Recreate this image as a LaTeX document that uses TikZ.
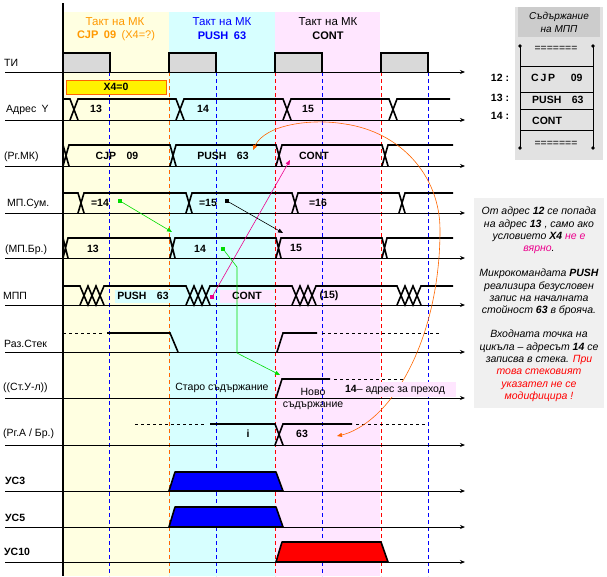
\documentclass[tikz,border=0pt]{standalone}
\usepackage{fontspec}
\setmainfont{Liberation Sans}
\usetikzlibrary{arrows.meta}
\definecolor{bandY}{RGB}{255,255,225}
\definecolor{bandC}{RGB}{215,255,255}
\definecolor{bandP}{RGB}{255,230,255}
\definecolor{tiGray}{RGB}{217,217,217}
\definecolor{mkOrange}{RGB}{255,153,0}
\definecolor{lineOrange}{RGB}{255,102,0}
\definecolor{arrGreen}{RGB}{0,220,0}
\definecolor{panelGray}{RGB}{226,226,226}
\definecolor{headGray}{RGB}{204,204,204}
\definecolor{noteGray}{RGB}{240,240,240}
\begin{document}
\begin{tikzpicture}[x=1pt,y=-1pt,
    sig/.style={line width=1.6pt},
    axis/.style={line width=0.8pt,-{Stealth[length=5pt,width=4pt]}},
    grid/.style={line width=0.8pt,dash pattern=on 4pt off 3pt},
    lbl/.style={anchor=west,inner sep=0pt,font=\fontsize{10.5}{12}\selectfont},
    val/.style={inner sep=1pt,font=\fontsize{10.5}{12}\selectfont\bfseries},
    txt/.style={inner sep=1pt,font=\fontsize{10.5}{12}\selectfont},
    sqmark/.style={fill,minimum size=4pt,inner sep=0pt},
    conn/.style={line width=0.6pt,-{Triangle[length=5pt,width=4pt]}}]
  \useasboundingbox (0,0) rectangle (607,576);
  % bands of the three clock cycles
  \fill[bandY] (63,12) rectangle (169,576);
  \fill[bandC] (169,12) rectangle (275,576);
  \fill[bandP] (275,12) rectangle (380,576);
  \node[txt,mkOrange,font=\fontsize{11.5}{13}\selectfont] (h1) at (115,22) {Такт на МК};
  \node[txt,blue,font=\fontsize{11.5}{13}\selectfont] (h2) at (222,22) {Такт на МК};
  \node[txt,font=\fontsize{11.5}{13}\selectfont] (h3) at (328,22) {Такт на МК};
  \node[txt,mkOrange,font=\fontsize{11}{13}\selectfont] (c1) at (116,36) {\textbf{CJP\enspace 09}\enspace(X4=?)};
  \node[txt,blue,font=\fontsize{11}{13}\selectfont\bfseries] (c2) at (222,36) {PUSH\enspace 63};
  \node[txt,font=\fontsize{11}{13}\selectfont\bfseries] (c3) at (328,36) {CONT};
  % dashed time marks
  \draw[grid,blue] (109,72) -- (109,576);
  \draw[grid,blue] (216,72) -- (216,576);
  \draw[grid,blue] (322,72) -- (322,576);
  \draw[grid,blue] (428,72) -- (428,576);
  \draw[grid,lineOrange] (169,72) -- (169,576);
  \draw[grid,red] (275,72) -- (275,576);
  \draw[grid,red] (381,72) -- (381,576);
  % clock pulses
  \draw[sig,fill=tiGray] (63,72) -- (63,53) -- (110,53) -- (110,72);
  \draw[sig,fill=tiGray] (169,72) -- (169,53) -- (216,53) -- (216,72);
  \draw[sig,fill=tiGray] (275,72) -- (275,53) -- (322,53) -- (322,72);
  \draw[sig,fill=tiGray] (381,72) -- (381,53) -- (428,53) -- (428,72);
  % time axes
  \draw[axis] (5,72) -- (465,72);
  \draw[axis] (5,120) -- (465,120);
  \draw[axis] (5,166) -- (465,166);
  \draw[axis] (5,213) -- (465,213);
  \draw[axis] (5,258) -- (465,258);
  \draw[axis] (5,305) -- (465,305);
  \draw[axis] (5,352) -- (465,352);
  \draw[axis] (5,398) -- (465,398);
  \draw[axis] (5,445) -- (465,445);
  \draw[axis] (5,491) -- (465,491);
  \draw[axis] (5,527) -- (465,527);
  \draw[axis] (5,562) -- (465,562);
  \draw[line width=1.6pt] (63,3) -- (63,576);
  % signal names
  \node[lbl] (ti) at (4,63) {ТИ};
  \node[lbl] (adr) at (6,110) {Адрес\enspace Y};
  \node[lbl] (rgmk) at (4,157) {(Рг.МК)};
  \node[lbl] (mpsum) at (7,204) {МП.Сум.};
  \node[lbl] (mpbr) at (5,250) {(МП.Бр.)};
  \node[lbl] (mpp) at (3,296) {МПП};
  \node[lbl] (stek) at (4,344) {Раз.Стек};
  \node[lbl] (stul) at (3,388) {((Ст.У-л))};
  \node[lbl] (rga) at (3,434) {(Рг.А / Бр.)};
  \node[lbl,font=\fontsize{10.5}{12}\selectfont\bfseries] (us3) at (5,481) {УС3};
  \node[lbl,font=\fontsize{10.5}{12}\selectfont\bfseries] (us5) at (5,518) {УС5};
  \node[lbl,font=\fontsize{10.5}{12}\selectfont\bfseries] (us10) at (4,552) {УС10};
  % condition box
  \node[draw=lineOrange,fill=yellow,line width=0.8pt,minimum width=100pt,minimum height=14pt,
    inner sep=0pt,font=\fontsize{10.5}{12}\selectfont\bfseries] (x4) at (116,87) {X4=0};
  % address Y
  \draw[sig] (63,99) -- (70,99) -- (78,120) (70,120) -- (78,99) -- (176,99) -- (184,120)
    (176,120) -- (184,99) -- (283,99) -- (291,120) (283,120) -- (291,99) -- (389,99) -- (397,120)
    (389,120) -- (397,99) -- (450,99);
  \node[val] (a13) at (96,109) {13};
  \node[val] (a14) at (203,109) {14};
  \node[val] (a15) at (308,109) {15};
  % register of the microcommand
  \draw[sig] (63,145) -- (69,166) (63,166) -- (69,145) -- (170,145) -- (176,166)
    (170,166) -- (176,145) -- (276,145) -- (282,166) (276,166) -- (282,145) -- (382,145) -- (388,166)
    (382,166) -- (388,145) -- (453,145);
  \node[val] (k1) at (117,156) {CJP\enspace\enspace 09};
  \node[val] (k2) at (223,156) {PUSH\enspace\enspace 63};
  \node[val] (k3) at (314,156) {CONT};
  % adder
  \draw[sig] (63,193) -- (78,193) -- (84,213) (78,213) -- (84,193) -- (186,193) -- (192,213)
    (186,213) -- (192,193) -- (292,193) -- (298,213) (292,213) -- (298,193) -- (399,193) -- (405,213)
    (399,213) -- (405,193) -- (453,193);
  \node[val] (s14) at (100,203) {=14};
  \node[val] (s15) at (208,203) {=15};
  \node[val] (s16) at (318,203) {=16};
  % counter
  \draw[sig] (63,238) -- (68,258) (63,258) -- (68,238) -- (170,238) -- (175,258)
    (170,258) -- (175,238) -- (276,238) -- (281,258) (276,258) -- (281,238) -- (382,238) -- (387,258)
    (382,258) -- (387,238) -- (453,238);
  \node[val] (b13) at (93,249) {13};
  \node[val] (b14) at (200,249) {14};
  \node[val] (b15) at (296,248) {15};
  % microprogram memory
  \draw[sig] (63,286) -- (80,286) -- (88,305) -- (96,286) -- (104,305)
    (80,305) -- (88,286) -- (96,305) -- (104,286) -- (186,286) -- (194,305) -- (202,286) -- (210,305)
    (186,305) -- (194,286) -- (202,305) -- (210,286) -- (292,286) -- (300,305) -- (308,286) -- (316,305)
    (292,305) -- (300,286) -- (308,305) -- (316,286) -- (397,286) -- (405,305) -- (413,286) -- (421,305)
    (397,305) -- (405,286) -- (413,305) -- (421,286) -- (453,286);
  \node[val,fill=bandC,minimum width=56pt,minimum height=13pt] (p1) at (143,296) {PUSH\enspace\enspace 63};
  \node[val,fill=bandP,minimum width=54pt,minimum height=13pt] (p2) at (247,296) {CONT};
  \node[val] (p3) at (329,296) {(15)};
  % stack enable
  \draw[dashed] (63,333) -- (102,333);
  \draw[sig] (107,333) -- (170,333) -- (178,352);
  \draw[sig] (277,352) -- (283,333) -- (317,333);
  \draw[dashed] (322,333) -- (440,333);
  % stack top
  \draw[sig] (276,398) -- (282,379) -- (330,379);
  \draw[dashed] (334,379) -- (403,379);
  \node[txt] (old) at (222,388) {Старо съдържание};
  \node[txt] (new1) at (313,392) {Ново};
  \node[txt] (new2) at (313,406) {съдържание};
  % register A / counter
  \draw[dashed] (135,424) -- (205,424);
  \draw[sig] (210,424) -- (275,424) -- (283,445) (275,445) -- (283,424) -- (352,424);
  \draw[dashed] (356,424) -- (428,424);
  \node[val] (ri) at (248,434) {i};
  \node[val] (r63) at (302,434) {63};
  % control signals
  \draw[sig,line join=round,fill=blue] (169,491) -- (175,472) -- (276,472) -- (283,491) -- cycle;
  \draw[sig,line join=round,fill=blue] (169,527) -- (175,507) -- (276,507) -- (283,527) -- cycle;
  \draw[sig,line join=round,fill=red] (276,562) -- (282,542) -- (381,542) -- (388,562) -- cycle;
  % connectors
  \node[sqmark,arrGreen] (g1) at (120,201) {};
  \coordinate (g1e) at (172,232);
  \draw[conn,arrGreen] (g1) -- (g1e);
  \node[sqmark] (n1) at (227,201) {};
  \coordinate (n1e) at (283,233);
  \draw[conn] (n1) -- (n1e);
  \node[sqmark,magenta] (m1) at (212,297) {};
  \coordinate (m1e) at (290,160);
  \draw[conn,magenta] (m1) -- (m1e);
  \node[sqmark,arrGreen] (g2) at (223,249) {};
  \coordinate (g2a) at (237,267);
  \coordinate (g2b) at (237,353);
  \coordinate (g2e) at (280,375);
  \draw[conn,arrGreen] (g2) -- (g2a) -- (g2b) -- (g2e);
  \coordinate (o1) at (253,150);
  \coordinate (o2) at (337,436);
  \draw[line width=0.6pt,lineOrange,{Triangle[length=5pt,width=4pt]}-{Triangle[length=5pt,width=4pt]}]
    (o1) .. controls (265,125) and (310,118) .. (345,124)
    .. controls (400,132) and (440,175) .. (440,230)
    .. controls (440,300) and (420,360) .. (392,397)
    .. controls (375,420) and (355,432) .. (o2);
  \node[txt,fill=bandP,minimum width=122pt,minimum height=15pt] (jmp) at (395,389.5) {\textbf{14}– адрес за преход};
  % contents of the microprogram memory
  \fill[panelGray] (515,7) rectangle (603,160);
  \fill[headGray] (518,7) rectangle (600,37);
  \node[align=center,inner sep=0pt,font=\itshape\fontsize{10}{13}\selectfont] (cont) at (559,22) {Съдържание\\на МПП};
  \draw[line width=0.8pt] (520,46) -- (520,148) (593,46) -- (593,148);
  \fill (520,46) circle (1.8) (593,46) circle (1.8) (520,148) circle (1.8) (593,148) circle (1.8);
  \draw[line width=0.8pt] (520,66) -- (593,66) (520,92) -- (593,92) (520,109) -- (593,109) (520,130) -- (593,130);
  \node[txt] (e1) at (556,49) {=======};
  \node[txt] (e2) at (556,144) {=======};
  \node[val,anchor=west] (w12) at (530,78) {C\,J\,P\quad\enspace 09};
  \node[val,anchor=west] (w13) at (531,100) {PUSH\quad 63};
  \node[val,anchor=west] (w14) at (531,121) {CONT};
  \node[val] (d12) at (500,78) {12 :};
  \node[val] (d13) at (500,98) {13 :};
  \node[val] (d14) at (500,116) {14 :};
  % notes
  \fill[noteGray] (474,198) rectangle (604,408);
  \node[align=center,inner sep=0pt,font=\itshape\fontsize{10.5}{12.3}\selectfont] (t1) at (539,230.5)
    {От адрес \textbf{12} се попада\\на адрес \textbf{13} , само ако\\условието \textbf{X4} \textcolor{magenta}{не е}\\\textcolor{magenta}{вярно}.};
  \node[align=center,inner sep=0pt,font=\itshape\fontsize{10.5}{12.3}\selectfont] (t2) at (539,292.5)
    {Микрокомандата \textbf{PUSH}\\реализира безусловен\\запис на началната\\стойност \textbf{63} в брояча.};
  \node[align=center,inner sep=0pt,font=\itshape\fontsize{10.5}{12.3}\selectfont] (t3) at (539,366)
    {Входната точка на\\цикъла – адресът \textbf{14} се\\записва в стека. \textcolor{red}{При}\\\textcolor{red}{това стековият}\\\textcolor{red}{указател не се}\\\textcolor{red}{модифицира !}};
\end{tikzpicture}
\end{document}
